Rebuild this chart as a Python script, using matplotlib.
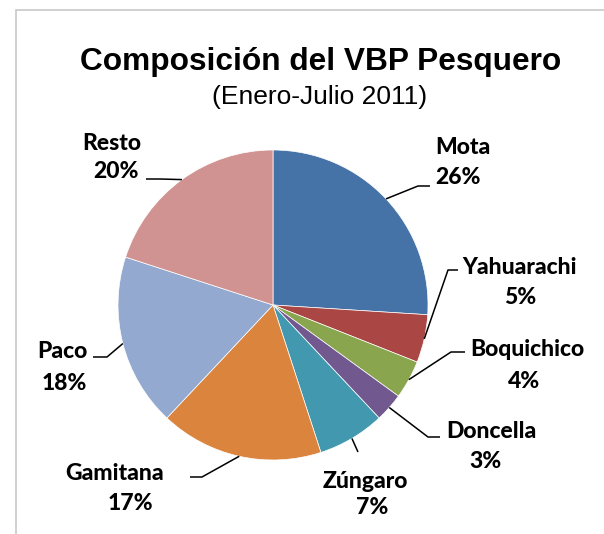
import numpy as np
import matplotlib.pyplot as plt
from matplotlib.patches import Rectangle

# datos
especies = ['Mota', 'Yahuarachi', 'Boquichico', 'Doncella', 'Zúngaro', 'Gamitana', 'Paco', 'Resto']
porcentajes = [26, 5, 4, 3, 7, 17, 18, 20]
colores = ['#4572A7', '#AA4643', '#89A54E', '#71588F', '#4198AF', '#DB843D', '#93A9CF', '#D19392']

W, H = 604, 534
fig = plt.figure(figsize=(W / 100, H / 100), dpi=100)
ax = fig.add_axes([0, 0, 1, 1])

def py(y):
    # pixel y (desde arriba) -> coordenada del eje
    return H - y

cx, cy, r = 273, 305, 155
wedges, _ = ax.pie(porcentajes, colors=colores, startangle=90, counterclock=False,
                   center=(cx, py(cy)), radius=r, frame=True,
                   wedgeprops=dict(edgecolor='white', linewidth=0.5))
ax.set_xlim(0, W)
ax.set_ylim(0, H)
ax.set_aspect('equal')
ax.axis('off')

# marco gris
ax.add_patch(Rectangle((16, py(540)), 600, 530, fill=False, edgecolor='#c8c8c8', lw=1.2))

# posiciones de etiquetas (nombre y porcentaje) y codos de las lineas guia
pos_nombre = [(463, 147), (520, 268), (527, 350), (491, 432), (365, 482), (115, 473), (62, 352), (112, 143)]
pos_pct = [(458, 178), (520, 298), (524, 381), (485, 462), (372, 507), (130, 503), (64, 383), (116, 172)]
codos = [[(418, 186), (430, 186)],
         [(448, 270), (458, 270)],
         [(451, 352), (465, 352)],
         [(428, 437), (440, 437)],
         [(358, 452)],
         [(202, 477), (190, 477)],
         [(107, 357), (93, 357)],
         [(160, 179), (146, 179)]]

fuente = dict(family=['Lato', 'DejaVu Sans'], fontweight='black', fontsize=16.5, color='black',
              ha='center', va='center')

acum = 0
for i, (nombre, p) in enumerate(zip(especies, porcentajes)):
    medio = acum + p / 2
    acum += p
    ang = np.deg2rad(90 - medio * 3.6)
    x0, y0 = cx + r * np.cos(ang), cy - r * np.sin(ang)
    xs = [x0] + [c[0] for c in codos[i]]
    ys = [py(y0)] + [py(c[1]) for c in codos[i]]
    ax.plot(xs, ys, color='black', lw=1.1, solid_capstyle='butt')
    ax.text(pos_nombre[i][0], py(pos_nombre[i][1]), nombre, **fuente)
    ax.text(pos_pct[i][0], py(pos_pct[i][1]), f'{p}%', **fuente)

ax.text(321, py(62), 'Composición del VBP Pesquero', family='Liberation Sans',
        fontweight='bold', fontsize=22.8, ha='center', va='center')
ax.text(320, py(97), '(Enero-Julio 2011)', family='Liberation Sans',
        fontsize=19, ha='center', va='center')

fig.savefig('out.png', dpi=100)
